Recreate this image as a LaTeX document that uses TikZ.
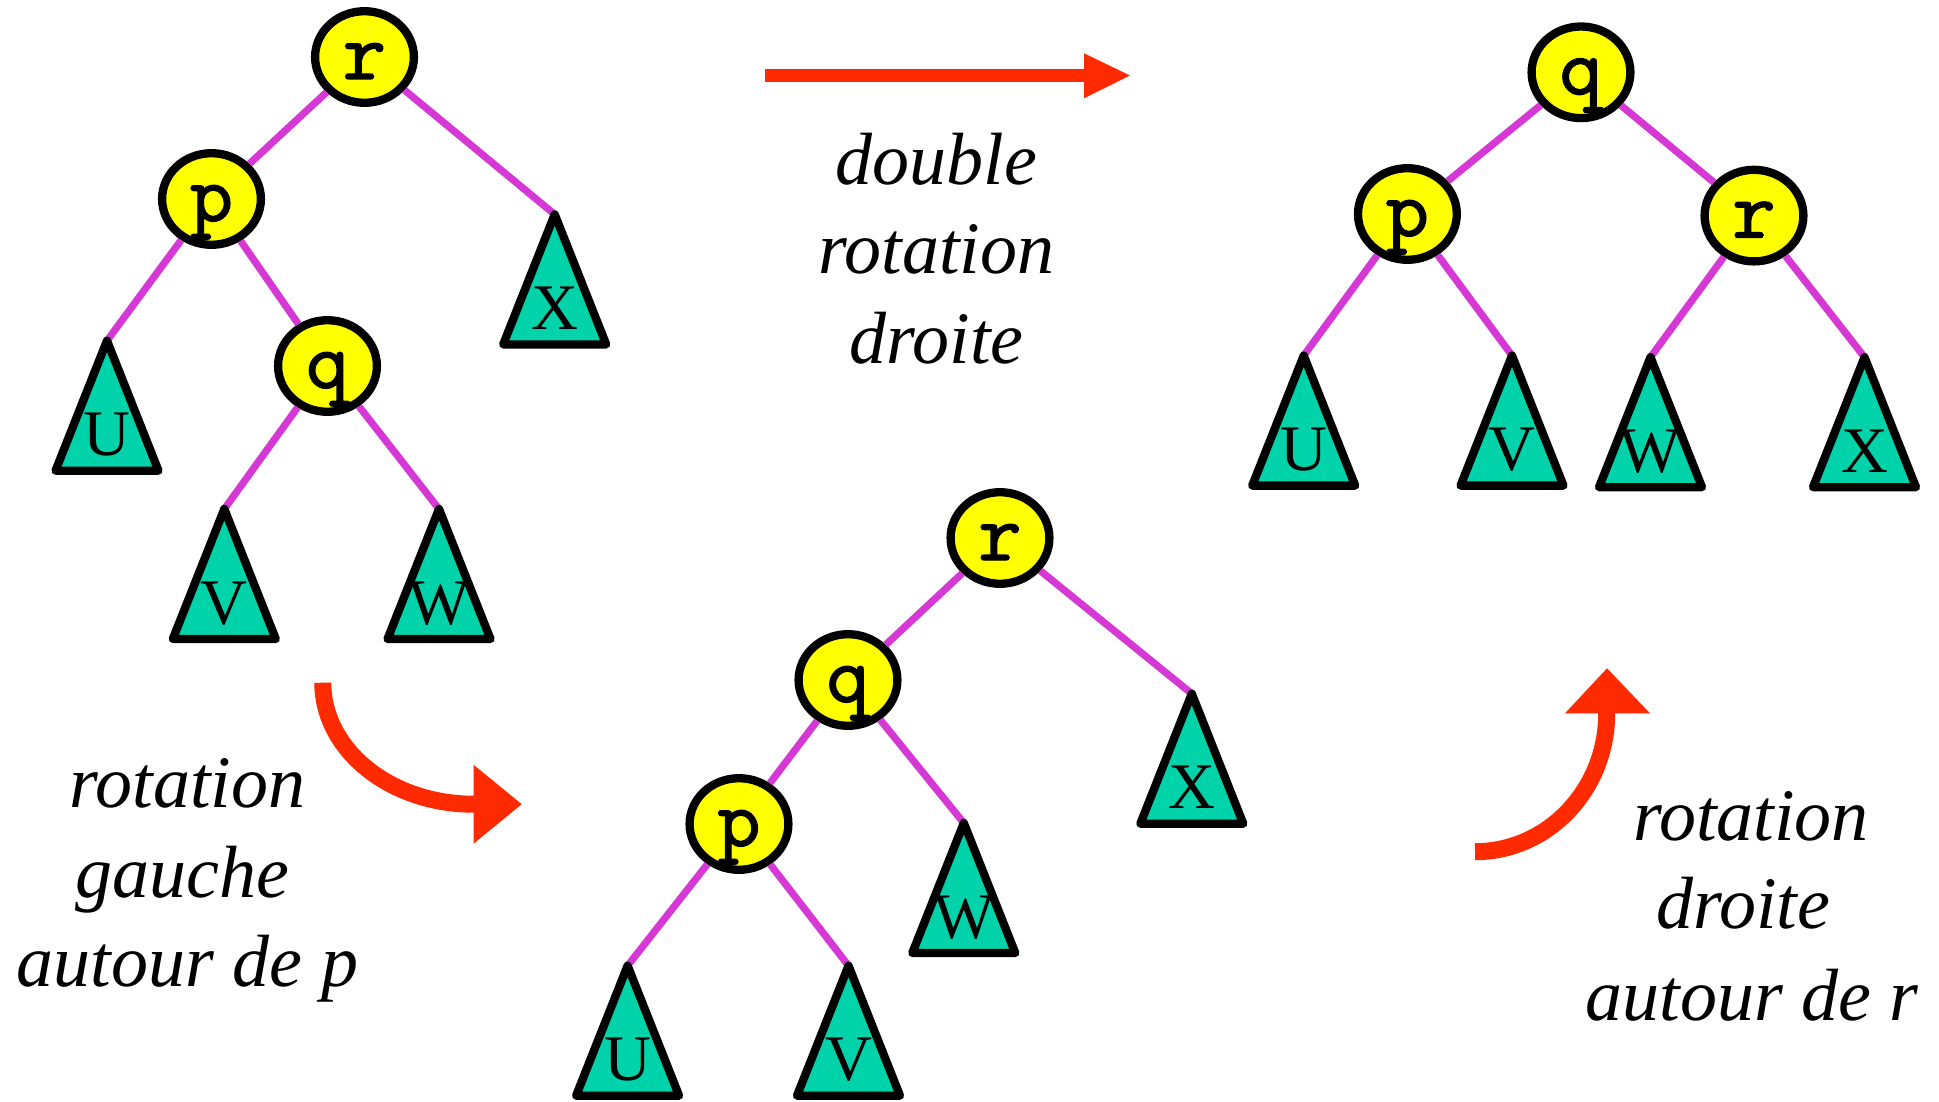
\documentclass[tikz,border=0pt]{standalone}
\usepackage{fontspec}
\setmainfont{Liberation Serif}
\newfontfamily\nodefont{lmmono10-regular.otf}[FakeBold=1.5]
\usetikzlibrary{shapes.geometric}
\definecolor{nodeyellow}{RGB}{255,255,0}
\definecolor{subteal}{RGB}{0,211,170}
\definecolor{edgemag}{RGB}{214,56,214}
\definecolor{arrred}{RGB}{255,42,0}
\newcommand\subtree[2]{%
  \draw[subtri] (#1) -- ++(-51.5,130) -- ++(103,0) -- cycle;
  \path (#1) ++(0,115) node[trilabel] (#1lab) {#2};}
\begin{document}
\begin{tikzpicture}[x=0.5pt,y=-0.5pt,
  keynode/.style={ellipse, draw=black, fill=nodeyellow, line width=4.15pt,
    minimum width=49.4pt, minimum height=45.8pt, inner sep=0pt,
    font=\nodefont\fontsize{41}{41}\selectfont, text height=22pt, text depth=0pt},
  edgeline/.style={draw=edgemag, line width=3.6pt},
  subtri/.style={draw=black, fill=subteal, line width=4.15pt, line join=round},
  trilabel/.style={font=\fontsize{32.5}{32.5}\selectfont, anchor=base, inner sep=0pt},
  caption/.style={font=\fontsize{37}{44.5}\selectfont\itshape, anchor=base, inner sep=0pt},
  redshaft/.style={draw=arrred, line width=#1},
  redhead/.style={fill=arrred}]
\useasboundingbox (0,0) rectangle (1939,1102);

% ---- tree 1 ----
\node[keynode] (r1) at (364.5,57) {r};
\node[keynode] (p1) at (211.5,199) {p};
\node[keynode] (q1) at (327.5,366) {q};
\coordinate (aU1) at (107,340.7);
\coordinate (aX1) at (554.7,214.4);
\coordinate (aV1) at (224.3,509);
\coordinate (aW1) at (439,509);
\draw[edgeline] (r1) -- (p1);
\draw[edgeline] (r1) -- (aX1);
\draw[edgeline] (p1) -- (aU1);
\draw[edgeline] (p1) -- (q1);
\draw[edgeline] (q1) -- (aV1);
\draw[edgeline] (q1) -- (aW1);
\subtree{aU1}{U}
\subtree{aX1}{X}
\subtree{aV1}{V}
\subtree{aW1}{W}

% ---- tree 2 ----
\node[keynode] (r2) at (1000,538) {r};
\node[keynode] (q2) at (848,680) {q};
\node[keynode] (p2) at (739,824) {p};
\coordinate (aX2) at (1191.8,693.7);
\coordinate (aW2) at (963.8,823);
\coordinate (aU2) at (627.6,965.7);
\coordinate (aV2) at (848.5,965.7);
\draw[edgeline] (r2) -- (q2);
\draw[edgeline] (r2) -- (aX2);
\draw[edgeline] (q2) -- (p2);
\draw[edgeline] (q2) -- (aW2);
\draw[edgeline] (p2) -- (aU2);
\draw[edgeline] (p2) -- (aV2);
\subtree{aX2}{X}
\subtree{aW2}{W}
\subtree{aU2}{U}
\subtree{aV2}{V}

% ---- tree 3 ----
\node[keynode] (q3) at (1581,72.3) {q};
\node[keynode] (p3) at (1407.4,214) {p};
\node[keynode] (r3) at (1754,215.6) {r};
\coordinate (aU3) at (1303.7,355.6);
\coordinate (aV3) at (1512,355.6);
\coordinate (aW3) at (1650.5,357.2);
\coordinate (aX3) at (1864.5,357.2);
\draw[edgeline] (q3) -- (p3);
\draw[edgeline] (q3) -- (r3);
\draw[edgeline] (p3) -- (aU3);
\draw[edgeline] (p3) -- (aV3);
\draw[edgeline] (r3) -- (aW3);
\draw[edgeline] (r3) -- (aX3);
\subtree{aU3}{U}
\subtree{aV3}{V}
\subtree{aW3}{W}
\subtree{aX3}{X}

% ---- straight arrow ----
\coordinate (s1) at (765,75.5);
\coordinate (s2) at (1086,75.5);
\draw[redshaft=6.15pt] (s1) -- (s2);
\fill[redhead] (1084,53.3) -- (1130,75.5) -- (1084,98.3) -- cycle;

% ---- left curved arrow ----
\coordinate (c1) at (322.8,682.7);
\draw[redshaft=8.5pt] (c1) arc[start angle=180, end angle=90, x radius=150.7, y radius=121.5] -- ++(2,0);
\fill[redhead] (473.5,764.7) -- (521.7,804.2) -- (473.5,843.7) -- cycle;

% ---- right curved arrow ----
\coordinate (c2) at (1475,851.7);
\draw[redshaft=8.5pt] (c2) arc[start angle=90, end angle=0, x radius=131.7, y radius=138.4] -- ++(0,-2);
\fill[redhead] (1565,713.3) -- (1607,668.3) -- (1650,713.3) -- cycle;

% ---- captions ----
\node[caption] (t1a) at (936.5,184.3) {double};
\node[caption] (t1b) at (936.5,273.3) {rotation};
\node[caption] (t1c) at (936.5,363.3) {droite};

\node[caption] (t2a) at (187.5,807) {rotation};
\node[caption] (t2b) at (182,897.3) {gauche};
\node[caption] (t2c) at (187.5,986.7) {autour de p};

\node[caption] (t3a) at (1751,840) {rotation};
\node[caption] (t3b) at (1743,928.3) {droite};
\node[caption] (t3c) at (1752,1020) {autour de r};
\end{tikzpicture}
\end{document}
